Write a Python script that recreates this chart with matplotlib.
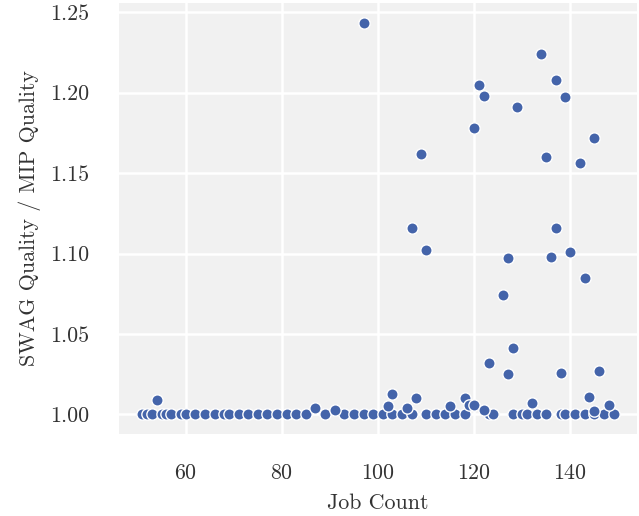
import matplotlib
matplotlib.use("Agg")
import matplotlib.pyplot as plt

# points sitting on the 1.00 line
base_jobs = [51, 52, 53, 55, 56, 57, 59, 60, 62, 64, 66, 68, 69, 71, 73, 75, 77,
             79, 81, 83, 85, 89, 93, 95, 97, 99, 101, 103, 105, 107, 110, 112, 114,
             116, 118, 123, 124, 128, 130, 131, 133, 135, 138, 139, 141, 143, 145,
             147, 149]
base_ratio = [1.0] * len(base_jobs)

# points above the line
high_jobs = [54, 87, 91, 102, 103, 106, 108, 115, 118, 119, 120, 122, 132, 144,
             145, 148, 97, 134, 137, 121, 122, 139, 129, 120, 145, 109, 135, 142,
             107, 137, 110, 127, 136, 140, 143, 126, 128, 123, 127, 138, 146]
high_ratio = [1.009, 1.004, 1.003, 1.005, 1.0125, 1.004, 1.010, 1.005, 1.010,
              1.006, 1.006, 1.003, 1.007, 1.011, 1.002, 1.0056, 1.2435, 1.224,
              1.208, 1.205, 1.198, 1.197, 1.191, 1.178, 1.172, 1.162, 1.160,
              1.156, 1.116, 1.116, 1.102, 1.097, 1.098, 1.101, 1.085, 1.0745,
              1.041, 1.032, 1.025, 1.026, 1.027]

jobs = base_jobs + high_jobs
ratio = base_ratio + high_ratio

plt.rcParams['font.family'] = 'serif'
plt.rcParams['font.serif'] = ['cmr10']
plt.rcParams['mathtext.fontset'] = 'cm'
plt.rcParams['axes.formatter.use_mathtext'] = True

fig = plt.figure(figsize=(6.39, 5.16), dpi=100)
ax = fig.add_axes([0.186, 0.159, 0.811, 0.835])
ax.set_facecolor('#F1F1F1')
ax.grid(True, color='white', linewidth=1.8)
ax.set_axisbelow(True)
for s in ax.spines.values():
    s.set_visible(False)

ax.scatter(jobs, ratio, s=66, color='#4464AA', edgecolor='white', linewidth=1.0, zorder=3)

ax.set_xticks([60, 80, 100, 120, 140])
ax.set_yticks([1.00, 1.05, 1.10, 1.15, 1.20, 1.25])
ax.set_yticklabels(['1.00', '1.05', '1.10', '1.15', '1.20', '1.25'])
ax.tick_params(length=0, labelsize=15.8, colors='#333333', pad=21)
ax.set_xlabel('Job Count', fontsize=15.8, color='#333333', labelpad=8)
ax.set_ylabel('SWAG Quality / MIP Quality', fontsize=15.8, color='#333333', labelpad=7)

fig.savefig('out.png', dpi=100)
